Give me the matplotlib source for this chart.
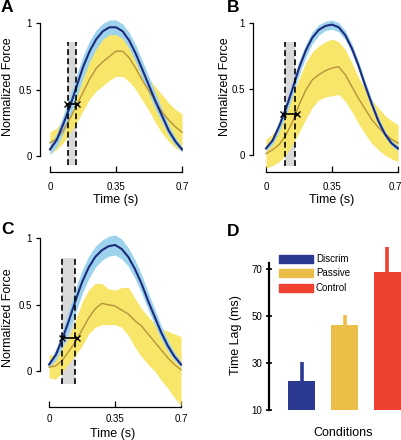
import matplotlib
matplotlib.use("Agg")
import matplotlib.pyplot as plt
import matplotlib.transforms as mtransforms
import numpy as np

plt.rcParams['font.family'] = ['Liberation Sans', 'DejaVu Sans']

# ---------------- data ----------------
time_s = [0.0, 0.035, 0.07, 0.105, 0.14, 0.175, 0.21, 0.245, 0.28, 0.315, 0.35,
          0.385, 0.42, 0.455, 0.49, 0.525, 0.56, 0.595, 0.63, 0.665, 0.7]

# Panel A
a_blue_mean = [0.05, 0.12, 0.24, 0.37, 0.52, 0.67, 0.79, 0.88, 0.94, 0.97, 0.97,
               0.94, 0.87, 0.77, 0.65, 0.53, 0.41, 0.30, 0.19, 0.11, 0.05]
a_blue_sd = [0.04, 0.05, 0.07, 0.08, 0.085, 0.085, 0.08, 0.07, 0.06, 0.055, 0.055,
             0.055, 0.06, 0.065, 0.065, 0.065, 0.06, 0.05, 0.04, 0.03, 0.02]
a_yel_mean = [0.10, 0.13, 0.19, 0.28, 0.38, 0.48, 0.58, 0.66, 0.71, 0.75, 0.79,
              0.79, 0.74, 0.66, 0.57, 0.49, 0.41, 0.33, 0.27, 0.22, 0.18]
a_yel_upper = [0.18, 0.21, 0.28, 0.40, 0.55, 0.68, 0.80, 0.88, 0.92, 0.94, 0.95,
               0.92, 0.85, 0.76, 0.66, 0.58, 0.52, 0.46, 0.40, 0.35, 0.32]
a_yel_lower = [0.02, 0.05, 0.10, 0.17, 0.25, 0.34, 0.43, 0.49, 0.53, 0.57, 0.60,
               0.60, 0.56, 0.50, 0.42, 0.34, 0.25, 0.17, 0.11, 0.06, 0.04]
a_window = [0.097, 0.136]
a_window_y = [-0.07, 0.86]
a_lag = [0.09, 0.145, 0.39]

# Panel B
b_blue_mean = [0.05, 0.11, 0.22, 0.35, 0.50, 0.66, 0.79, 0.89, 0.95, 0.98, 0.99,
               0.97, 0.91, 0.81, 0.68, 0.53, 0.39, 0.26, 0.16, 0.09, 0.05]
b_blue_sd = [0.02, 0.03, 0.04, 0.05, 0.055, 0.055, 0.05, 0.045, 0.04, 0.035, 0.035,
             0.035, 0.035, 0.035, 0.035, 0.035, 0.035, 0.03, 0.025, 0.02, 0.02]
b_yel_mean = [0.01, 0.04, 0.08, 0.15, 0.25, 0.38, 0.49, 0.57, 0.61, 0.64, 0.66,
              0.67, 0.61, 0.52, 0.43, 0.35, 0.27, 0.21, 0.16, 0.12, 0.09]
b_yel_upper = [0.12, 0.16, 0.22, 0.31, 0.45, 0.58, 0.70, 0.78, 0.83, 0.86, 0.88,
               0.86, 0.80, 0.70, 0.59, 0.50, 0.42, 0.36, 0.30, 0.26, 0.23]
b_yel_lower = [-0.10, -0.08, -0.05, 0.00, 0.08, 0.17, 0.27, 0.36, 0.42, 0.44, 0.45,
               0.46, 0.41, 0.33, 0.24, 0.16, 0.09, 0.04, 0.00, -0.03, -0.05]
b_window = [0.10, 0.154]
b_window_y = [-0.08, 0.86]
b_lag = [0.09, 0.165, 0.31]

# Panel C
c_blue_mean = [0.05, 0.12, 0.24, 0.38, 0.53, 0.67, 0.78, 0.86, 0.91, 0.94, 0.95,
               0.92, 0.86, 0.77, 0.66, 0.53, 0.41, 0.29, 0.19, 0.11, 0.05]
c_blue_sd = [0.02, 0.04, 0.06, 0.08, 0.09, 0.09, 0.085, 0.08, 0.075, 0.075, 0.075,
             0.075, 0.07, 0.07, 0.07, 0.065, 0.06, 0.05, 0.04, 0.03, 0.02]
c_yel_mean = [0.03, 0.04, 0.08, 0.15, 0.22, 0.31, 0.40, 0.47, 0.51, 0.50, 0.49,
              0.46, 0.43, 0.38, 0.34, 0.28, 0.22, 0.16, 0.10, 0.05, 0.01]
c_yel_upper = [0.12, 0.13, 0.17, 0.25, 0.38, 0.52, 0.61, 0.66, 0.66, 0.62, 0.61,
               0.63, 0.63, 0.55, 0.47, 0.41, 0.36, 0.32, 0.30, 0.28, 0.26]
c_yel_lower = [-0.05, -0.06, -0.01, 0.06, 0.12, 0.19, 0.28, 0.33, 0.35, 0.35, 0.35,
               0.33, 0.27, 0.18, 0.11, 0.05, 0.00, -0.07, -0.13, -0.20, -0.26]
c_window = [0.071, 0.138]
c_window_y = [-0.10, 0.85]
c_lag = [0.07, 0.15, 0.25]

# Panel D
conditions = ['Discrim', 'Passive', 'Control']
lag_mean = [22.5, 46.0, 68.7]
lag_err_top = [30.5, 50.5, 79.4]
bar_colors = ['#2B3990', '#EBBE48', '#EE4130']

# ---------------- styling ----------------
BLUE_LINE = '#1E2A7A'
BLUE_BAND = '#9ED3EE'
YEL_BAND = '#F8E66A'
YEL_LINE = '#B8923A'
GRAY = '#D9D9D9'
W, H = 401, 440
TICK_FS = 7
LAB_FS = 9

fig = plt.figure(figsize=(W / 100, H / 100), dpi=100)


def rect(l, r, b, t):
    return [l / W, 1 - b / H, (r - l) / W, (b - t) / H]


def force_panel(r, xlim, ylim, bm, bsd, ym, yu, yl, win, winy, lag, xpad=7):
    ax = fig.add_axes(r)
    t = np.array(time_s)
    bm = np.array(bm)
    bsd = np.array(bsd)
    ax.fill_between(win, winy[0], winy[1], color=GRAY, lw=0, zorder=1)
    ax.fill_between(t, yl, yu, color=YEL_BAND, lw=0, zorder=2)
    ax.fill_between(t, bm - bsd, bm + bsd, color=BLUE_BAND, lw=0, zorder=3)
    ax.plot(t, ym, color=YEL_LINE, lw=1.0, zorder=4)
    ax.plot(t, bm, color=BLUE_LINE, lw=1.5, zorder=5)
    for xv in win:
        ax.plot([xv, xv], winy, color='black', lw=1.2, ls=(0, (3.5, 2)), zorder=6)
    ax.plot([lag[0], lag[1]], [lag[2], lag[2]], color='black', lw=1.2, zorder=7,
            marker='x', markersize=4, markeredgewidth=1.0)
    ax.set_xlim(*xlim)
    ax.set_ylim(*ylim)
    for s in ['top', 'right']:
        ax.spines[s].set_visible(False)
    ax.spines['left'].set_bounds(0, 1)
    ax.spines['bottom'].set_bounds(0, 0.7)
    for s in ['left', 'bottom']:
        ax.spines[s].set_linewidth(0.9)
    ax.set_yticks([0, 0.5, 1])
    ax.set_yticklabels(['0', '0.5', '1'])
    ax.set_xticks([0, 0.35, 0.7])
    ax.set_xticklabels(['0', '0.35', '0.7'])
    ax.tick_params(axis='y', direction='out', length=3, width=0.9, labelsize=TICK_FS, pad=3)
    ax.tick_params(axis='x', direction='in', length=4, width=0.9, labelsize=TICK_FS, pad=xpad)
    ax.patch.set_alpha(0)
    return ax


force_panel(rect(40, 183, 172, 18), (-0.053, 0.705), (-0.12, 1.04),
            a_blue_mean, a_blue_sd, a_yel_mean, a_yel_upper, a_yel_lower,
            a_window, a_window_y, a_lag)
axb = force_panel(rect(253, 399, 172, 18), (-0.069, 0.705), (-0.129, 1.04),
                  b_blue_mean, b_blue_sd, b_yel_mean, b_yel_upper, b_yel_lower,
                  b_window, b_window_y, b_lag)
# nudge the last tick label of B so it stays inside the figure
last = axb.get_xticklabels()[-1]
last.set_transform(last.get_transform() +
                   mtransforms.ScaledTranslation(-3 / 100, 0, fig.dpi_scale_trans))
force_panel(rect(40, 182, 407, 233), (-0.048, 0.705), (-0.27, 1.04),
            c_blue_mean, c_blue_sd, c_yel_mean, c_yel_upper, c_yel_lower,
            c_window, c_window_y, c_lag, xpad=5)

# Panel D
axd = fig.add_axes(rect(269, 401, 410, 225))
xpos = np.arange(1, len(conditions) + 1)
heights = np.array(lag_mean) - 10
axd.bar(xpos, heights, bottom=10, width=0.63, color=bar_colors, zorder=2)
for xp, m, e, c in zip(xpos, lag_mean, lag_err_top, bar_colors):
    axd.plot([xp, xp], [m, e], color=c, lw=2.6, solid_capstyle='butt', zorder=2)
axd.set_xlim(0.236, 3.32)
axd.set_ylim(10, 88.7)
for s in ['top', 'right', 'bottom']:
    axd.spines[s].set_visible(False)
axd.spines['left'].set_bounds(10, 72.7)
axd.spines['left'].set_linewidth(1.6)
axd.set_xticks([])
axd.set_yticks([10, 30, 50, 70])
axd.tick_params(axis='y', direction='inout', length=4, width=1.2, labelsize=TICK_FS, pad=3)
axd.patch.set_alpha(0)

# legend for D (drawn manually)
leg_rows = [259, 273, 288]
for name, col, yy in zip(conditions, bar_colors, leg_rows):
    fig.patches.append(plt.Rectangle((279 / W, 1 - (yy + 3.7) / H), 34 / W, 7.4 / H,
                                     transform=fig.transFigure, color=col))
    fig.text(316 / W, 1 - yy / H, name, fontsize=7, va='center', ha='left')

# ---------------- text ----------------
lab = dict(fontsize=LAB_FS)
fig.text(8 / W, 1 - 87 / H, 'Normalized Force', rotation=90, ha='center', va='center', **lab)
fig.text(225 / W, 1 - 87 / H, 'Normalized Force', rotation=90, ha='center', va='center', **lab)
fig.text(8 / W, 1 - 318 / H, 'Normalized Force', rotation=90, ha='center', va='center', **lab)
fig.text(236 / W, 1 - 335 / H, 'Time Lag (ms)', rotation=90, ha='center', va='center', **lab)
fig.text(116 / W, 1 - 200 / H, 'Time (s)', ha='center', va='center', **lab)
fig.text(332 / W, 1 - 200 / H, 'Time (s)', ha='center', va='center', **lab)
fig.text(113 / W, 1 - 433.5 / H, 'Time (s)', ha='center', va='center', **lab)
fig.text(343 / W, 1 - 433 / H, 'Conditions', ha='center', va='center', **lab)

pl = dict(fontsize=12.5, fontweight='bold', ha='left', va='center')
fig.text(1 / W, 1 - 8 / H, 'A', **pl)
fig.text(227 / W, 1 - 8 / H, 'B', **pl)
fig.text(1 / W, 1 - 229 / H, 'C', **pl)
fig.text(227 / W, 1 - 231 / H, 'D', **pl)

fig.savefig('out.png', dpi=100)
